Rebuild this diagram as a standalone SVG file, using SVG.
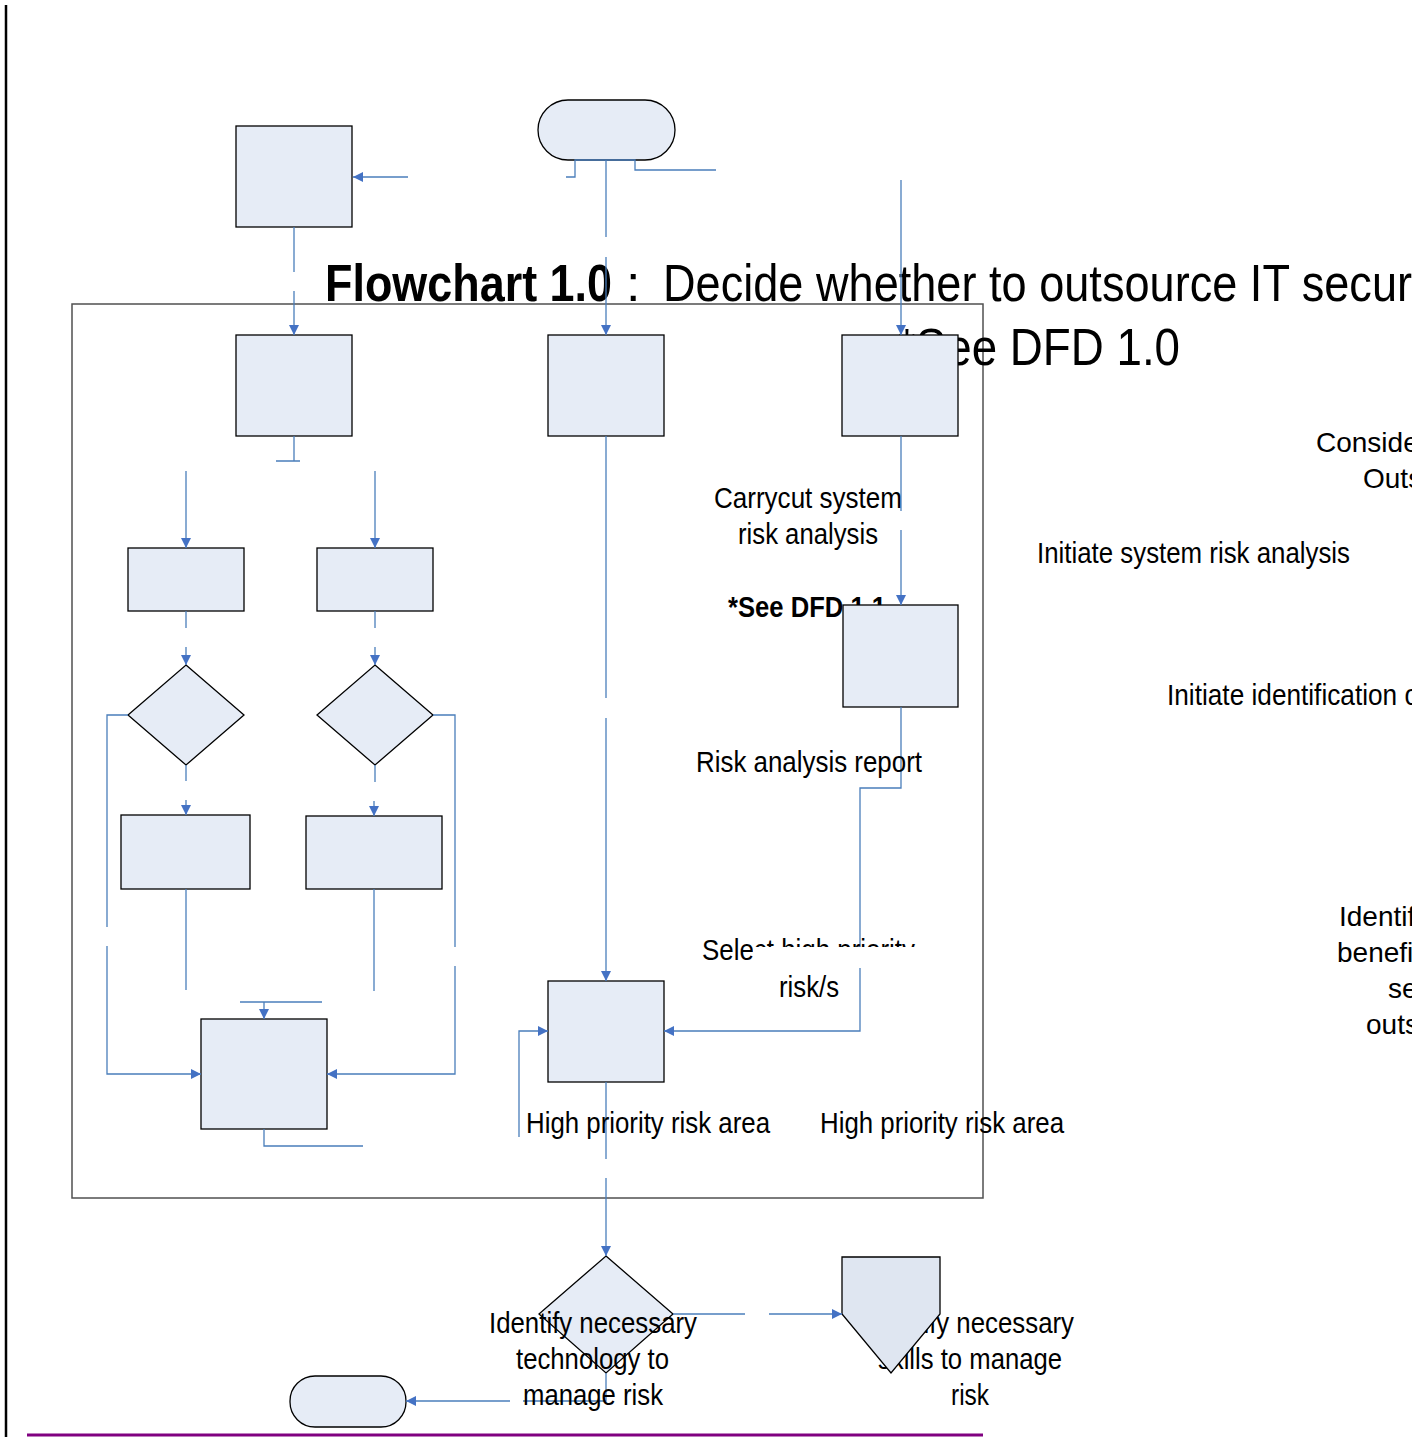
<svg xmlns="http://www.w3.org/2000/svg" width="1412" height="1437" viewBox="0 0 1412 1437">
<style>
.n{fill:#e6ecf6;stroke:#000;stroke-width:1.3}
.p{fill:#dfe6f1;stroke:#000;stroke-width:1.3}
.c{fill:none;stroke:#4a7ebb;stroke-width:1.3}
.a{marker-end:url(#ah)}
.t{font-family:"Liberation Sans Narrow","Liberation Sans",Arial,sans-serif;font-size:30px;fill:#000}
.w{font-family:"Liberation Sans",Arial,sans-serif;font-size:28px;fill:#000}
.b{font-weight:bold}
.h{font-size:52px}
</style>
<defs>
<marker id="ah" markerUnits="userSpaceOnUse" markerWidth="10" markerHeight="10" refX="10" refY="5" orient="auto">
<path d="M0,0 L10,5 L0,10 z" fill="#4472c4"/>
</marker>
</defs>
<rect width="1412" height="1437" fill="#fff"/>
<line x1="6" y1="5" x2="6" y2="1437" stroke="#000" stroke-width="2.5"/>
<line x1="27" y1="1435" x2="983" y2="1435" stroke="#800080" stroke-width="3"/>
<rect id="frame" x="72" y="304" width="911" height="894" fill="none" stroke="#505050" stroke-width="1.5"/>

<g id="title">
<text class="t h" y="301"><tspan class="b" x="325" textLength="287" lengthAdjust="spacingAndGlyphs">Flowchart 1.0</tspan><tspan x="626">:</tspan><tspan x="663" textLength="749" lengthAdjust="spacingAndGlyphs">Decide whether to outsource IT secur</tspan></text>
<text class="t h" x="898" y="365" textLength="282" lengthAdjust="spacingAndGlyphs">*See DFD 1.0</text>
</g>
<g id="offpage-labels">
<text class="w" x="1316" y="452">Conside</text>
<text class="w" x="1363" y="488">Outs</text>
<text class="t" x="1037" y="563" textLength="313" lengthAdjust="spacingAndGlyphs">Initiate system risk analysis</text>
<text class="t" x="1167" y="705" textLength="252" lengthAdjust="spacingAndGlyphs">Initiate identification o</text>
<text class="w" x="1339" y="926">Identify</text>
<text class="w" x="1337" y="962">benefit</text>
<text class="w" x="1388" y="998">se</text>
<text class="w" x="1366" y="1034">outs</text>
</g>
<text class="t b" x="728" y="617" font-size="29" textLength="158" lengthAdjust="spacingAndGlyphs">*See DFD 1.1</text>
<g id="skills-label">
<text class="t" x="866" y="1333" textLength="208" lengthAdjust="spacingAndGlyphs">Identify necessary</text>
<text class="t" x="878" y="1369" textLength="184" lengthAdjust="spacingAndGlyphs">skills to manage</text>
<text class="t" x="951" y="1405" textLength="38" lengthAdjust="spacingAndGlyphs">risk</text>
</g>

<g id="start"><rect class="n" x="538" y="100" width="137" height="60" rx="30"/></g>
<g id="boxA"><rect class="n" x="236" y="126" width="116" height="101"/></g>
<g id="boxB"><rect class="n" x="236" y="335" width="116" height="101"/></g>
<g id="boxC"><rect class="n" x="548" y="335" width="116" height="101"/></g>
<g id="boxD"><rect class="n" x="842" y="335" width="116" height="101"/></g>
<g id="boxE"><rect class="n" x="128" y="548" width="116" height="63"/></g>
<g id="boxF"><rect class="n" x="317" y="548" width="116" height="63"/></g>
<g id="decG"><polygon class="n" points="186,665 244,715 186,765 128,715"/></g>
<g id="decH"><polygon class="n" points="375,665 433,715 375,765 317,715"/></g>
<g id="boxI"><rect class="n" x="121" y="815" width="129" height="74"/></g>
<g id="boxJ"><rect class="n" x="306" y="816" width="136" height="73"/></g>
<g id="boxK"><rect class="n" x="201" y="1019" width="126" height="110"/></g>
<g id="boxM"><rect class="n" x="843" y="605" width="115" height="102"/></g>
<g id="boxL"><rect class="n" x="548" y="981" width="116" height="101"/></g>
<g id="decN"><polygon class="n" points="606,1256 673,1314 606,1373 539,1314"/></g>
<g id="offpageO"><polygon class="p" points="842,1257 940,1257 940,1314 891,1373 842,1314"/></g>
<g id="end"><rect class="n" x="290" y="1376" width="116" height="51" rx="25"/></g>

<g id="connectors">
<path class="c a" d="M408,177 H353"/>
<path class="c" d="M566,177 H575 V160 H635 V170 H716"/>
<path class="c" d="M606,160 V237"/>
<path class="c a" d="M606,257 V335"/>
<path class="c" d="M294,227 V272"/>
<path class="c a" d="M294,291 V335"/>
<path class="c a" d="M901,180 V335"/>
<path class="c" d="M294,436 V461 M276,461 H300"/>
<path class="c a" d="M186,471 V548"/>
<path class="c a" d="M375,471 V548"/>
<path class="c" d="M186,611 V628"/>
<path class="c a" d="M186,647 V665"/>
<path class="c" d="M375,611 V628"/>
<path class="c a" d="M375,647 V665"/>
<path class="c" d="M186,765 V781"/>
<path class="c a" d="M186,800 V815"/>
<path class="c" d="M375,765 V782"/>
<path class="c a" d="M374,801 V816"/>
<path class="c" d="M128,715 H107 V927"/>
<path class="c a" d="M107,946 V1074 H201"/>
<path class="c" d="M433,715 H455 V947"/>
<path class="c a" d="M455,966 V1074 H327"/>
<path class="c" d="M186,889 V990"/>
<path class="c" d="M374,889 V991"/>
<path class="c" d="M240,1002 H322"/>
<path class="c a" d="M264,1002 V1019"/>
<path class="c" d="M264,1129 V1146 H363"/>
<path class="c" d="M606,436 V698"/>
<path class="c a" d="M606,718 V981"/>
<path class="c" d="M901,436 V511"/>
<path class="c a" d="M901,530 V605"/>
<path class="c a" d="M901,707 V788 H860 V1031 H664"/>
<path class="c a" d="M519,1137 V1031 H548"/>
<path class="c" d="M606,1082 V1159"/>
<path class="c a" d="M606,1178 V1256"/>
<path class="c" d="M673,1314 H745"/>
<path class="c a" d="M769,1314 H842"/>
<path class="c" d="M606,1373 V1401 H523"/>
<path class="c a" d="M510,1401 H406"/>
</g>

<g id="labels">
<text class="t" x="714" y="508" textLength="188" lengthAdjust="spacingAndGlyphs">Carrycut system</text>
<text class="t" x="738" y="544" textLength="140" lengthAdjust="spacingAndGlyphs">risk analysis</text>
<text class="t" x="696" y="772" textLength="226" lengthAdjust="spacingAndGlyphs">Risk analysis report</text>
<text class="t" x="702" y="960" textLength="213" lengthAdjust="spacingAndGlyphs">Select high priority</text>
<text class="t" x="779" y="997" textLength="60" lengthAdjust="spacingAndGlyphs">risk/s</text>
<text class="t" x="526" y="1133" textLength="244" lengthAdjust="spacingAndGlyphs">High priority risk area</text>
<text class="t" x="820" y="1133" textLength="244" lengthAdjust="spacingAndGlyphs">High priority risk area</text>
<text class="t" x="489" y="1333" textLength="208" lengthAdjust="spacingAndGlyphs">Identify necessary</text>
<text class="t" x="516" y="1369" textLength="153" lengthAdjust="spacingAndGlyphs">technology to</text>
<text class="t" x="523" y="1405" textLength="140" lengthAdjust="spacingAndGlyphs">manage risk</text>
</g>
<rect x="753" y="947" width="164" height="21" fill="#fff"/>
</svg>
